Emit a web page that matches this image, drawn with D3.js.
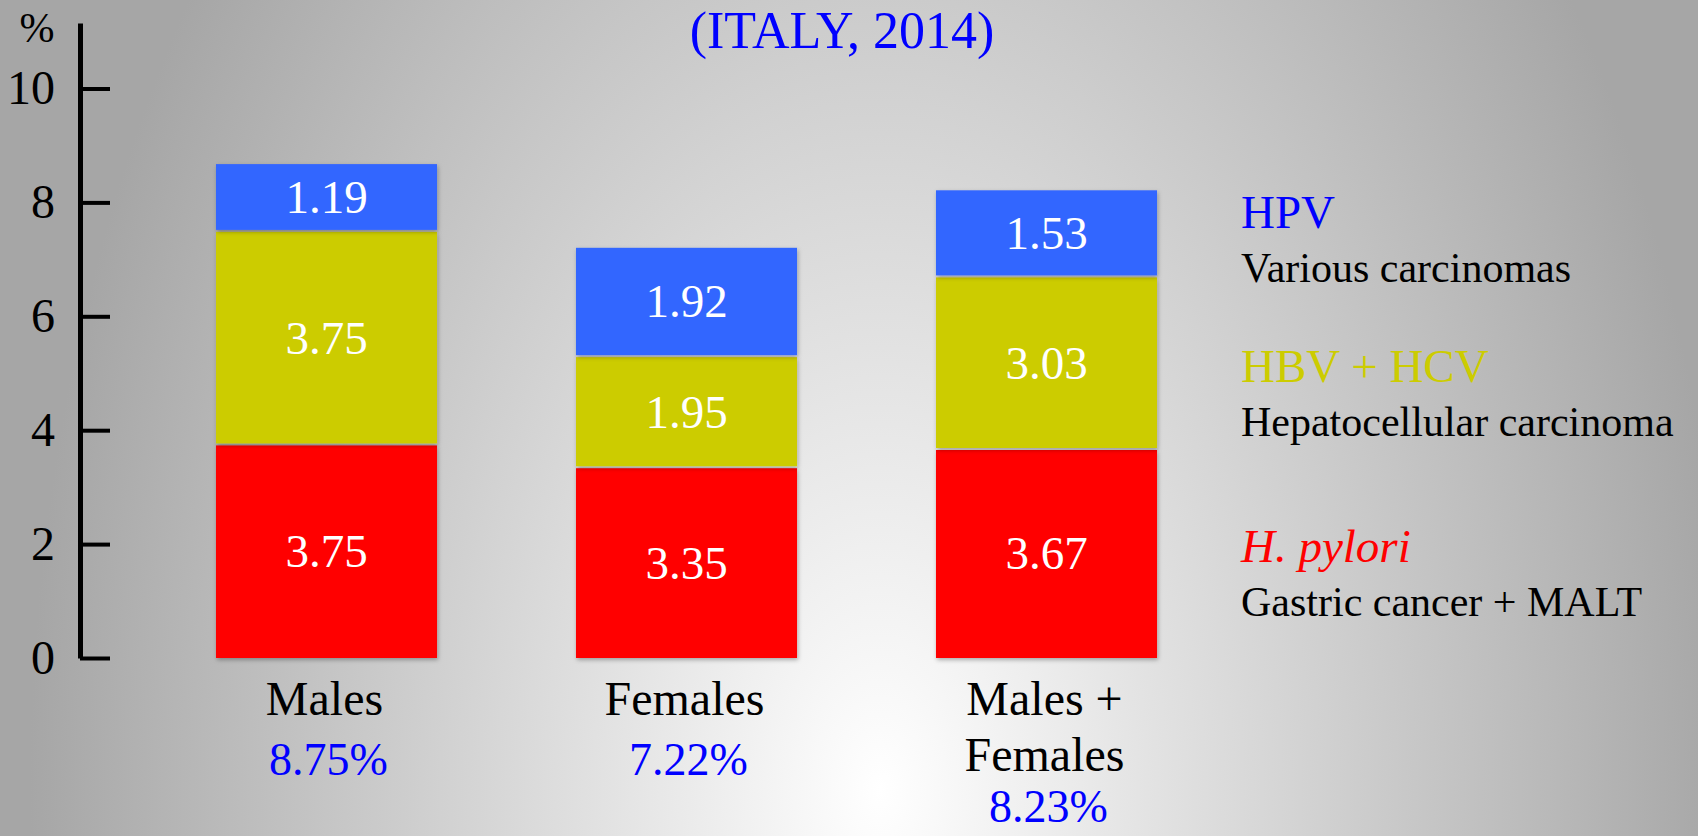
<!DOCTYPE html>
<html>
<head>
<meta charset="utf-8">
<script src="https://cdn.jsdelivr.net/npm/d3@7"></script>
<style>
  html, body { margin: 0; padding: 0; overflow: hidden; }
  svg { display: block; font-family: "Liberation Serif", "Times New Roman", serif; }
</style>
</head>
<body>
<svg id="chart" width="1698" height="836"></svg>
<script>
const groups = ["Males", "Females", "Males + Females"];
const groupLines = [["Males"], ["Females"], ["Males +", "Females"]];
const hPylori = [3.75, 3.35, 3.67];
const hbvHcv = [3.75, 1.95, 3.03];
const hpv = [1.19, 1.92, 1.53];
const totals = [8.75, 7.22, 8.23];
const yTicks = [0, 2, 4, 6, 8, 10];

const seriesKeys = ["hPylori", "hbvHcv", "hpv"];
const barColors = { hPylori: "#ff0000", hbvHcv: "#cccc00", hpv: "#3366ff" };

const legendNames = ["HPV", "HBV + HCV", "H. pylori"];
const legendDescs = ["Various carcinomas", "Hepatocellular carcinoma", "Gastric cancer + MALT"];
const legendColors = ["#0000ff", "#cccc00", "#ff0000"];
const legendItalic = [false, false, true];
const legendY = [228, 382, 562];

const svg = d3.select("#chart");
const width = +svg.attr("width");
const height = +svg.attr("height");

// background
const defs = svg.append("defs");
const grad = defs.append("radialGradient")
  .attr("id", "bg")
  .attr("gradientUnits", "userSpaceOnUse")
  .attr("cx", 880).attr("cy", 790).attr("r", 850)
  .attr("gradientTransform", "translate(880,790) scale(1,1.6) translate(-880,-790)");
grad.append("stop").attr("offset", "0%").attr("stop-color", "#ffffff");
grad.append("stop").attr("offset", "100%").attr("stop-color", "#a6a6a6");

const shadow = defs.append("filter").attr("id", "shadow")
  .attr("x", "-10%").attr("y", "-10%").attr("width", "120%").attr("height", "130%");
shadow.append("feDropShadow")
  .attr("dx", 1).attr("dy", 2).attr("stdDeviation", 2)
  .attr("flood-color", "#000").attr("flood-opacity", 0.3);

svg.append("rect").attr("width", width).attr("height", height).attr("fill", "url(#bg)");

const axisX = 80;
const y = d3.scaleLinear().domain([0, 11.15]).range([658, 23]);
const x = d3.scaleBand()
  .domain(groups)
  .range([146.5, 1226.5])
  .paddingInner(0.386)
  .paddingOuter(0.193);

// title
svg.append("text")
  .attr("x", 842).attr("y", 48)
  .attr("text-anchor", "middle")
  .attr("font-size", 52)
  .attr("fill", "#0000ff")
  .text("(ITALY, 2014)");

// axis
const axisG = svg.append("g")
  .attr("transform", `translate(${axisX},0)`)
  .call(d3.axisLeft(y).tickValues(yTicks).tickSize(-30).tickSizeOuter(0).tickPadding(25));
axisG.select(".domain").attr("stroke", "#000").attr("stroke-width", 5);
axisG.selectAll(".tick line").attr("stroke", "#000").attr("stroke-width", 4);
axisG.selectAll(".tick text")
  .attr("font-size", 48)
  .attr("font-family", "\"Liberation Serif\", \"Times New Roman\", serif")
  .attr("fill", "#000");

svg.append("text")
  .attr("x", 37).attr("y", 42)
  .attr("text-anchor", "middle")
  .attr("font-size", 42)
  .text("%");

// stacked bars
const rows = groups.map((g, i) => ({
  group: g,
  hPylori: hPylori[i],
  hbvHcv: hbvHcv[i],
  hpv: hpv[i],
}));
const stacked = d3.stack().keys(seriesKeys)(rows);

const gap = 1;
stacked.forEach((layer) => {
  const lg = svg.append("g");
  lg.selectAll("rect")
    .data(layer)
    .join("rect")
    .attr("x", (d) => x(d.data.group))
    .attr("width", x.bandwidth())
    .attr("y", (d) => y(d[1]) + gap)
    .attr("height", (d) => y(d[0]) - y(d[1]) - (d[0] === 0 ? gap : 2 * gap))
    .attr("fill", barColors[layer.key])
    .attr("filter", "url(#shadow)");
  lg.selectAll("text")
    .data(layer)
    .join("text")
    .attr("x", (d) => x(d.data.group) + x.bandwidth() / 2)
    .attr("y", (d) => (y(d[0]) + y(d[1])) / 2)
    .attr("dy", "0.34em")
    .attr("text-anchor", "middle")
    .attr("font-size", 47)
    .attr("fill", "#fff")
    .text((d) => (d[1] - d[0]).toFixed(2));
});

// category labels and totals
groups.forEach((g, i) => {
  const cx = x(g) + x.bandwidth() / 2;
  const lines = groupLines[i];
  lines.forEach((line, j) => {
    svg.append("text")
      .attr("x", cx - 2).attr("y", y(0) + 57 + j * 56)
      .attr("text-anchor", "middle")
      .attr("font-size", 48)
      .attr("fill", "#000")
      .text(line);
  });
  svg.append("text")
    .attr("x", cx + 2).attr("y", y(0) + 117 + (lines.length - 1) * 47)
    .attr("text-anchor", "middle")
    .attr("font-size", 46)
    .attr("fill", "#0000ff")
    .text(totals[i].toFixed(2) + "%");
});

// legend
legendNames.forEach((name, i) => {
  svg.append("text")
    .attr("x", 1241).attr("y", legendY[i])
    .attr("font-size", 47)
    .attr("font-style", legendItalic[i] ? "italic" : "normal")
    .attr("fill", legendColors[i])
    .text(name);
  svg.append("text")
    .attr("x", 1241).attr("y", legendY[i] + 54)
    .attr("font-size", 42)
    .attr("fill", "#000")
    .text(legendDescs[i]);
});
</script>
</body>
</html>
